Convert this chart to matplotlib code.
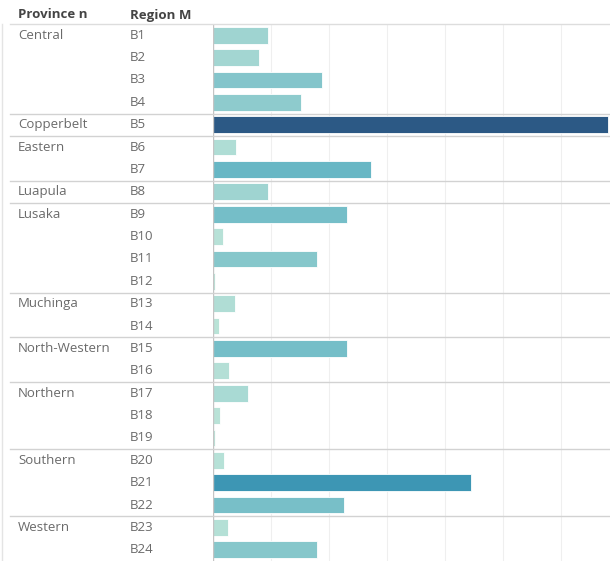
import matplotlib
matplotlib.use("Agg")
import matplotlib.pyplot as plt
from matplotlib.colors import LinearSegmentedColormap
from matplotlib.transforms import blended_transform_factory

# Province groups and the regions under each
provinces = ["Central", "Copperbelt", "Eastern", "Luapula", "Lusaka",
             "Muchinga", "North-Western", "Northern", "Southern", "Western"]
group_sizes = [4, 1, 2, 1, 4, 2, 2, 3, 3, 2]
regions = ["B%d" % i for i in range(1, 25)]
values = [950, 800, 1880, 1530, 6820, 400, 2730, 950, 2320, 170, 1800, 40,
          390, 100, 2320, 280, 600, 120, 40, 200, 4450, 2260, 260, 1800]

# sequential blue-teal palette
blue_teal = ["#bce4d8", "#a1d5d2", "#89c8cc", "#6ebac6", "#52acc0",
             "#3e9cb8", "#3885a9", "#317094", "#2c5985"]
cmap = LinearSegmentedColormap.from_list("blue_teal", blue_teal)

W, H = 610, 561
fig = plt.figure(figsize=(W / 100, H / 100), dpi=100)
plt.rcParams["font.family"] = ["Open Sans", "DejaVu Sans"]

x0, top = 212.7, 24
ax = fig.add_axes([x0 / W, 0, 1 - x0 / W, 1 - top / H])
n = len(regions)
ax.set_ylim(n - 0.5, -0.5)
ax.set_xlim(0, 6850)

vmax = max(values)
colors = [cmap(v / vmax) for v in values]
ax.barh(range(n), values, height=0.75, color=colors,
        edgecolor="#ffffff", linewidth=0.6, zorder=3)

for g in range(1000, 7000, 1000):
    ax.axvline(g, color="#efefef", lw=0.8, zorder=1)
ax.axvline(0, color="#c4c4c4", lw=1.0, zorder=4)
for s in ax.spines.values():
    s.set_visible(False)
ax.set_xticks([])
ax.set_yticks([])

tr = blended_transform_factory(fig.transFigure, ax.transData)
label_color = "#6a6a6a"
fs = 9.5

# header row
fig.text(18 / W, 1 - 15 / H, "Province n", fontsize=fs, fontweight="bold",
         color="#444444", va="center", ha="left")
fig.text(130 / W, 1 - 15 / H, "Region M", fontsize=fs, fontweight="bold",
         color="#444444", va="center", ha="left")
fig.add_artist(plt.Line2D([10 / W, 1], [1 - top / H, 1 - top / H],
                          color="#dddddd", lw=1.0))
fig.add_artist(plt.Line2D([1.5 / W, 1.5 / W], [0, 1 - top / H],
                          color="#e4e4e4", lw=1.0))

row = 0
for name, size in zip(provinces, group_sizes):
    ax.text(18 / W, row, name, transform=tr, fontsize=fs, color=label_color,
            va="center", ha="left")
    if row > 0:
        ax.plot([10 / W, 1], [row - 0.5, row - 0.5], transform=tr,
                color="#d2d2d2", lw=1.0, clip_on=False, zorder=5)
    row += size

for i, r in enumerate(regions):
    ax.text(130 / W, i, r, transform=tr, fontsize=fs, color=label_color,
            va="center", ha="left")

fig.savefig("out.png", dpi=100)
